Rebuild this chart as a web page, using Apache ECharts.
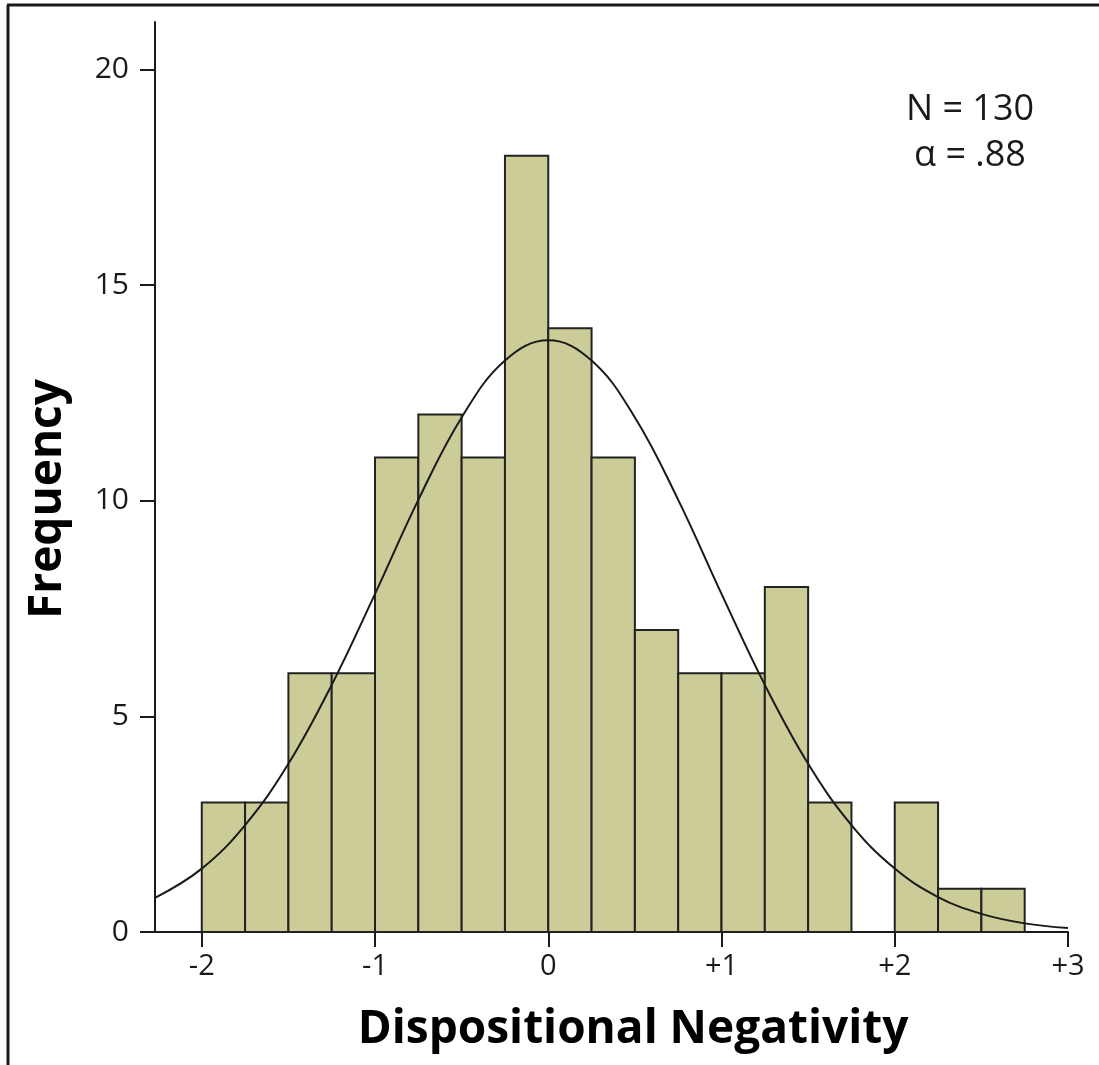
<!DOCTYPE html>
<html>
<head>
<meta charset="utf-8">
<script src="https://cdn.jsdelivr.net/npm/echarts@6/dist/echarts.min.js"></script>
<style>
  html, body { margin: 0; padding: 0; background: #fff; }
  #chart { width: 1099px; height: 1065px; }
</style>
</head>
<body>
<div id="chart"></div>
<script>
// histogram bins (lower edge, upper edge) and counts
const binStart = [-2, -1.75, -1.5, -1.25, -1, -0.75, -0.5, -0.25, 0, 0.25, 0.5, 0.75, 1, 1.25, 1.5, 1.75, 2, 2.25, 2.5];
const binEnd   = [-1.75, -1.5, -1.25, -1, -0.75, -0.5, -0.25, 0, 0.25, 0.5, 0.75, 1, 1.25, 1.5, 1.75, 2, 2.25, 2.5, 2.75];
const counts   = [3, 3, 6, 6, 11, 12, 11, 18, 14, 11, 7, 6, 6, 8, 3, 0, 3, 1, 1];

// normal curve
const curveX = [-2.27, -2, -1.75, -1.5, -1.25, -1, -0.75, -0.5, -0.25, 0, 0.25, 0.5, 0.75, 1, 1.25, 1.5, 1.75, 2, 2.25, 2.5, 2.75, 3];
const curveY = [0.79, 1.47, 2.48, 3.9, 5.73, 7.84, 10.02, 11.93, 13.25, 13.72, 13.25, 11.93, 10.02, 7.84, 5.73, 3.9, 2.48, 1.47, 0.81, 0.42, 0.2, 0.09];

// tick labels
const xTicks = [-2, -1, 0, 1, 2, 3];
const xTickLabels = ['-2', '-1', '0', '+1', '+2', '+3'];
const yTicks = [0, 5, 10, 15, 20];

const font = '"Open Sans", "Noto Sans", sans-serif';
const ink = '#1a1a1a';

const chart = echarts.init(document.getElementById('chart'));

const bins = counts.map((c, i) => [binStart[i], binEnd[i], c]).filter(d => d[2] > 0);

const option = {
    backgroundColor: '#fff',
    animation: false,
    grid: { left: 155, right: 31, top: 22, bottom: 133 },
    xAxis: {
        type: 'value',
        min: -2.27,
        max: 3,
        splitLine: { show: false },
        axisLine: { onZero: false, lineStyle: { color: ink, width: 2 } },
        axisTick: { show: true, customValues: xTicks, length: 15, lineStyle: { color: ink, width: 2 } },
        axisLabel: {
            customValues: xTicks,
            margin: 20,
            fontFamily: font,
            fontSize: 29,
            color: ink,
            formatter: v => xTickLabels[xTicks.indexOf(v)]
        }
    },
    yAxis: {
        type: 'value',
        min: 0,
        max: 21.1,
        splitLine: { show: false },
        axisLine: { show: true, onZero: false, lineStyle: { color: ink, width: 2 } },
        axisTick: { show: true, customValues: yTicks, length: 15, lineStyle: { color: ink, width: 2 } },
        axisLabel: {
            customValues: yTicks,
            margin: 26,
            fontFamily: font,
            fontSize: 30,
            color: ink
        }
    },
    series: [
        {
            type: 'custom',
            data: bins,
            renderItem: (params, api) => {
                const p0 = api.coord([api.value(0), api.value(2)]);
                const p1 = api.coord([api.value(1), 0]);
                return {
                    type: 'rect',
                    shape: { x: p0[0], y: p0[1], width: p1[0] - p0[0], height: p1[1] - p0[1] },
                    style: { fill: '#cccc99', stroke: '#222', lineWidth: 2 }
                };
            },
            z: 2
        },
        {
            type: 'line',
            data: curveX.map((x, i) => [x, curveY[i]]),
            smooth: 0.4,
            showSymbol: false,
            lineStyle: { color: ink, width: 2 },
            z: 3
        }
    ],
    graphic: [
        // outer frame (top and left edges)
        { type: 'line', shape: { x1: 7, y1: 5, x2: 1099, y2: 5 }, style: { stroke: ink, lineWidth: 3 } },
        { type: 'line', shape: { x1: 8, y1: 5, x2: 8, y2: 1065 }, style: { stroke: ink, lineWidth: 3 } },
        {
            type: 'text', x: 970, y: 92,
            style: { text: 'N = 130', fontFamily: font, fontSize: 36, fill: ink, textAlign: 'center' }
        },
        {
            type: 'text', x: 970, y: 138,
            style: { text: 'α = .88', fontFamily: font, fontSize: 36, fill: ink, textAlign: 'center' }
        },
        {
            type: 'text', x: 633, y: 1030,
            style: { text: 'Dispositional Negativity', fontFamily: font, fontWeight: 'bold', fontSize: 46, fill: '#000', textAlign: 'center', textVerticalAlign: 'middle' }
        },
        {
            type: 'text', x: 48, y: 499, rotation: Math.PI / 2,
            style: { text: 'Frequency', fontFamily: font, fontWeight: 'bold', fontSize: 46, fill: '#000', textAlign: 'center', textVerticalAlign: 'middle' }
        }
    ]
};

chart.setOption(option);
</script>
</body>
</html>
